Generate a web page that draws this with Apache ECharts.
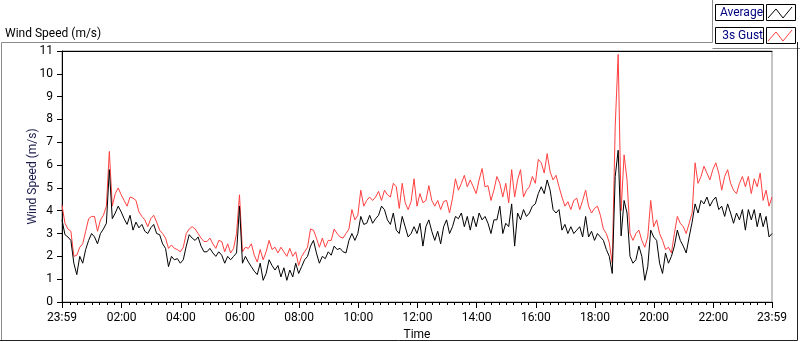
<!DOCTYPE html>
<html>
<head>
<meta charset="utf-8">
<script src="https://cdn.jsdelivr.net/npm/echarts@6/dist/echarts.min.js"></script>
<style>
  html, body { margin: 0; padding: 0; background: #fff; }
  #chart { width: 800px; height: 342px; }
</style>
</head>
<body>
<div id="chart"></div>
<script>
// Wind speed over 24 h, one sample every 6 min from 23:59 (minute 0) to 23:59 (minute 1440).
const STEP_MIN = 6;

// 3 s gust (red)
const gust = [
  4.25, 3.45, 3.2, 3.1, 2.0, 2.05, 2.4, 2.55, 3.1, 3.65,
  3.75, 3.75, 3.1, 3.6, 3.8, 4.2, 6.6, 4.2, 4.75, 5.0,
  4.7, 4.45, 4.2, 4.6, 4.55, 4.45, 3.95, 3.75, 3.6, 3.3,
  3.65, 3.8, 3.5, 3.15, 3.0, 2.8, 2.35, 2.5, 2.35, 2.3,
  2.2, 2.4, 3.0, 3.2, 3.3, 3.2, 3.0, 2.8, 2.65,
  2.65, 2.8, 2.55, 2.35, 2.7, 2.65, 2.2, 2.55, 2.15, 2.35,
  3.0, 4.7, 2.2, 2.4, 2.35, 2.55, 2.05, 1.75, 2.3, 1.85,
  2.2, 2.7, 2.3, 2.4, 2.15, 2.4, 2.2, 2.0, 2.35, 2.0,
  2.2, 1.6, 2.0, 2.2, 2.4, 3.2, 3.15, 2.8, 2.4, 2.8,
  2.4, 2.7, 2.7, 3.2, 3.0, 2.85,
  2.8, 3.0, 3.2, 4.05, 3.6, 3.8, 4.9, 4.2, 4.45, 4.6,
  4.45, 4.6, 4.85, 4.45, 4.9, 4.7, 4.6, 5.2, 5.05, 4.1,
  5.2, 4.35, 4.05, 4.4, 5.4, 4.2, 4.75, 4.35, 4.45, 5.1,
  4.45, 4.2, 4.45, 4.05, 4.4, 4.45, 3.9, 4.55, 5.4, 4.9,
  5.2, 5.55, 5.05, 5.35, 5.05, 4.75, 5.35, 5.85,
  5.05, 5.1, 4.45, 4.9, 5.5, 5.2, 4.6, 5.2, 4.35, 5.8,
  4.6, 5.35, 5.8, 4.6, 4.9, 5.05, 5.5, 5.2, 6.25, 6.1,
  5.65, 6.5, 5.7, 5.35, 5.55, 5.05, 4.6, 4.2, 4.4, 4.05,
  4.45, 4.55, 4.05, 4.45, 4.9, 4.2, 3.9, 4.1, 4.2, 3.8,
  3.2, 3.0, 2.6, 1.7, 7.7, 10.85,
  4.0, 6.45, 5.35, 3.0, 2.7, 3.0, 3.15, 2.7, 2.4, 2.85,
  4.45, 3.3, 3.6, 3.0, 2.7, 2.3, 2.4, 2.15, 3.0, 3.75,
  3.45, 3.3, 3.0, 3.45, 3.9, 6.1, 5.2, 5.5, 5.95, 5.65,
  5.35, 5.8, 6.1, 5.65, 4.9, 5.5, 5.8, 5.2, 4.9, 4.75,
  5.2, 5.5, 5.05, 5.5, 4.75, 5.4, 5.05, 5.65, 4.45, 4.9,
  4.2, 4.6
];

// average (black)
const average = [
  3.6, 2.95, 2.85, 2.7, 1.7, 1.2, 2.0, 1.7, 2.3, 2.7,
  3.0, 2.85, 2.55, 3.0, 3.2, 3.45, 5.8, 3.65, 3.9, 4.2,
  3.95, 3.65, 3.4, 3.8, 3.15, 3.5, 3.25, 3.4, 3.1, 3.0,
  3.25, 3.4, 3.0, 2.95, 2.55, 2.35, 1.55, 2.0, 1.85, 1.9,
  1.7, 1.85, 2.45, 2.95, 2.8, 2.7, 2.85, 2.45, 2.2,
  2.2, 2.35, 2.15, 2.0, 2.2, 2.05, 1.7, 2.0, 1.85, 2.0,
  2.15, 4.2, 1.7, 2.0, 1.75, 1.55, 1.35, 1.2, 1.7, 0.95,
  1.25, 1.85, 1.6, 1.4, 1.6, 1.1, 1.5, 0.95, 1.4, 1.1,
  1.7, 1.25, 1.55, 1.85, 2.0, 2.45, 2.7, 2.15, 1.7, 2.0,
  1.9, 2.2, 2.05, 2.45, 2.3, 2.35,
  2.2, 2.15, 2.7, 3.0, 2.7, 3.0, 3.75, 3.4, 3.45, 3.8,
  3.45, 3.65, 3.8, 4.2, 4.05, 3.6, 3.4, 3.9, 3.15, 3.0,
  3.75, 3.3, 2.85, 3.0, 3.3, 3.0, 3.45, 2.45, 3.3, 3.6,
  3.1, 2.7, 3.1, 2.55, 3.3, 3.6, 3.0, 3.3, 3.75, 3.65,
  3.9, 3.3, 3.75, 3.15, 3.75, 3.3, 3.9, 3.6,
  3.75, 3.45, 3.0, 3.6, 3.6, 4.2, 3.0, 3.45, 3.3, 4.3,
  2.45, 3.9, 3.6, 4.05, 3.75, 3.9, 4.2, 4.3, 4.75, 5.05,
  4.75, 5.35, 4.9, 4.05, 3.9, 4.05, 3.15, 3.4, 3.0, 3.3,
  3.0, 3.15, 3.3, 2.85, 3.75, 2.85, 3.1, 2.7, 3.0, 2.85,
  2.7, 2.3, 2.0, 1.25, 5.5, 6.65,
  2.9, 4.45, 3.9, 2.0, 1.7, 1.85, 2.45, 2.0, 0.95, 1.55,
  3.15, 2.85, 2.7, 1.7, 1.25, 2.15, 1.7, 2.0, 2.45, 3.15,
  2.7, 2.45, 2.15, 2.85, 3.5, 4.3, 3.9, 4.45, 4.3, 4.6,
  4.2, 4.45, 4.6, 4.05, 4.2, 3.75, 4.3, 3.9, 3.45, 3.9,
  3.6, 4.05, 3.15, 4.05, 3.6, 4.05, 3.3, 3.9, 3.3, 3.75,
  2.85, 3.0
];

const tickLabels = ['23:59', '02:00', '04:00', '06:00', '08:00', '10:00', '12:00',
                    '14:00', '16:00', '18:00', '20:00', '22:00', '23:59'];
const tickMinutes = [0, 121, 241, 361, 481, 601, 721, 841, 961, 1081, 1201, 1321, 1440];

// minor ticks every 15 min, aligned to the full hours
const minorMinutes = [];
for (let m = 1; m < 1440; m += 15) minorMinutes.push(m);
minorMinutes.push(1440);

const FONT = 'Roboto';
const toPairs = (arr) => arr.map((v, i) => [i * STEP_MIN, v]);

const chart = echarts.init(document.getElementById('chart'), null, { renderer: 'canvas' });

chart.setOption({
  animation: false,
  backgroundColor: '#fff',
  textStyle: { fontFamily: FONT },
  title: {
    text: 'Wind Speed (m/s)',
    left: 0, top: 23,
    textStyle: { fontFamily: FONT, fontSize: 12, fontWeight: 'normal', color: '#000' },
  },
  legend: {
    orient: 'vertical',
    left: 716, top: 6,
    padding: 0,
    align: 'right',
    itemWidth: 24, itemHeight: 13,
    itemGap: 10,
    icon: 'path://M0,11 L8,2 L15,11 L24,0',
    textStyle: { fontFamily: FONT, fontSize: 12, color: '#000080', width: 47, lineHeight: 13 },
    data: [
      { name: 'Average', itemStyle: { color: 'transparent', borderColor: '#000', borderWidth: 1 } },
      { name: '3s Gust', itemStyle: { color: 'transparent', borderColor: '#ff4040', borderWidth: 1 } },
    ],
  },
  grid: {
    left: 62, right: 28, top: 51, bottom: 40,
    outerBoundsMode: 'none',
    show: true, borderColor: '#8a8a8a', borderWidth: 1, backgroundColor: '#fff',
  },
  xAxis: [
    {
      type: 'value', min: 0, max: 1440, position: 'bottom',
      name: 'Time', nameLocation: 'middle', nameGap: 27, nameMoveOverlap: false,
      nameTextStyle: { fontFamily: FONT, fontSize: 12, color: '#000' },
      axisLine: { show: true, lineStyle: { color: '#000', width: 1 } },
      axisTick: { show: true, customValues: tickMinutes, length: 6, lineStyle: { color: '#000' } },
      axisLabel: {
        customValues: tickMinutes, margin: 10, fontSize: 12, color: '#000',
        formatter: (v) => tickLabels[tickMinutes.indexOf(v)] ?? '',
      },
      splitLine: { show: false },
    },
    {
      type: 'value', min: 0, max: 1440, position: 'bottom',
      axisLine: { show: false },
      axisTick: { show: true, customValues: minorMinutes, length: 3, lineStyle: { color: '#000' } },
      axisLabel: { show: false },
      splitLine: { show: false },
    },
    {
      type: 'value', min: 0, max: 1440, position: 'top',
      axisLine: { show: true, lineStyle: { color: '#000', width: 1 } },
      axisTick: { show: false }, axisLabel: { show: false }, splitLine: { show: false },
    },
  ],
  yAxis: {
    type: 'value', min: 0, max: 11, interval: 1,
    name: 'Wind Speed (m/s)', nameLocation: 'middle', nameGap: 23, nameMoveOverlap: false,
    nameTextStyle: { fontFamily: FONT, fontSize: 12, color: '#1a1a4a' },
    axisLine: { show: true, lineStyle: { color: '#000', width: 1 } },
    axisTick: { show: true, length: 5, lineStyle: { color: '#000' } },
    axisLabel: { margin: 9, fontSize: 12, color: '#000' },
    splitLine: { show: false },
  },
  series: [
    {
      name: '3s Gust', type: 'line', data: toPairs(gust),
      showSymbol: false, symbol: 'none',
      lineStyle: { color: '#ff4040', width: 1 }, itemStyle: { color: '#ff4040' },
      z: 2,
    },
    {
      name: 'Average', type: 'line', data: toPairs(average),
      showSymbol: false, symbol: 'none',
      lineStyle: { color: '#000', width: 1 }, itemStyle: { color: '#000' },
      z: 3,
    },
  ],
  graphic: [
    // outer panel frame
    { type: 'polyline', shape: { points: [[1.5, 341], [1.5, 42.5], [712.5, 42.5], [712.5, 0]] },
      style: { stroke: '#8a8a8a', lineWidth: 1, fill: null }, silent: true },
    { type: 'line', shape: { x1: 712.5, y1: 48.5, x2: 800, y2: 48.5 },
      style: { stroke: '#8a8a8a', lineWidth: 1 }, silent: true },
    { type: 'polyline', shape: { points: [[0, 340.5], [797.5, 340.5], [797.5, 42]] },
      style: { stroke: '#222', lineWidth: 1, fill: null }, silent: true },
    // legend boxes
    { type: 'rect', shape: { x: 715.5, y: 4.5, width: 48, height: 16 },
      style: { stroke: '#000', fill: null, lineWidth: 1 }, silent: true, z: -1 },
    { type: 'rect', shape: { x: 766.5, y: 4.5, width: 29, height: 16 },
      style: { stroke: '#000', fill: null, lineWidth: 1 }, silent: true, z: -1 },
    { type: 'rect', shape: { x: 715.5, y: 27.5, width: 48, height: 16 },
      style: { stroke: '#000', fill: null, lineWidth: 1 }, silent: true, z: -1 },
    { type: 'rect', shape: { x: 766.5, y: 27.5, width: 29, height: 16 },
      style: { stroke: '#000', fill: null, lineWidth: 1 }, silent: true, z: -1 },
  ],
});
</script>
</body>
</html>
